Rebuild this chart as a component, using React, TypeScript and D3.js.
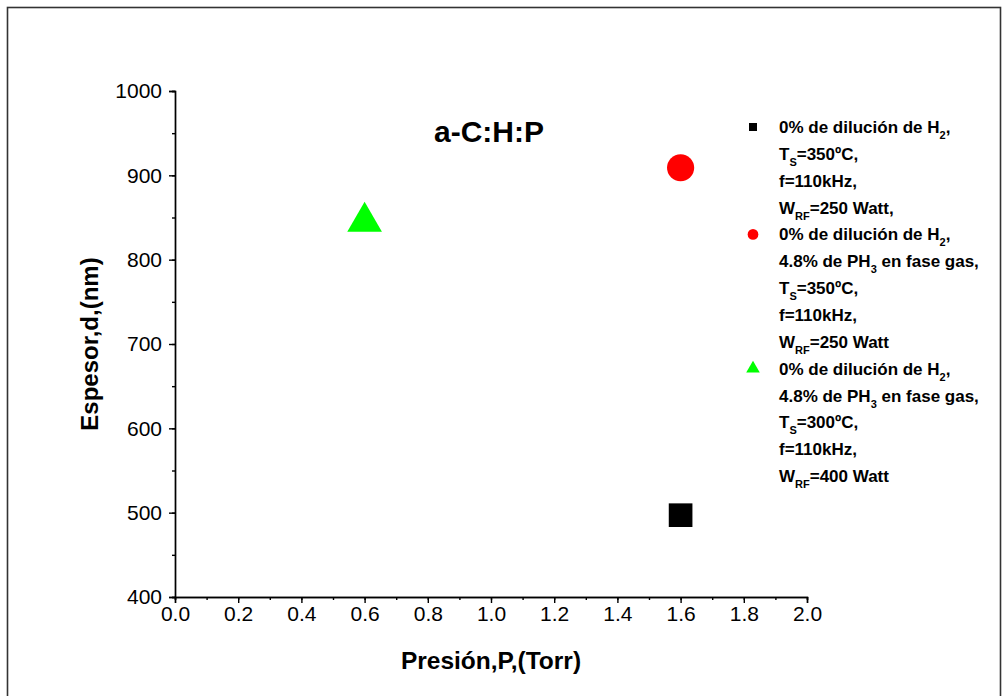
import * as d3 from 'd3';
import { useEffect, useRef } from 'react';

// series (one point each)
const seriesNames = ['square', 'circle', 'triangle'];
const seriesColors = ['#000000', '#ff0000', '#00ff00'];
const presion = [1.6, 1.6, 0.6];
const espesor = [497, 909, 845];

// legend text, _{..} marks a subscript
const legendLines = [
  ['0% de dilución de H_{2},', 'T_{S}=350ºC,', 'f=110kHz,', 'W_{RF}=250 Watt,'],
  ['0% de dilución de H_{2},', '4.8% de PH_{3} en fase gas,', 'T_{S}=350ºC,', 'f=110kHz,', 'W_{RF}=250 Watt'],
  ['0% de dilución de H_{2},', '4.8% de PH_{3} en fase gas,', 'T_{S}=300ºC,', 'f=110kHz,', 'W_{RF}=400 Watt'],
];

const xTicks = [0, 0.2, 0.4, 0.6, 0.8, 1.0, 1.2, 1.4, 1.6, 1.8, 2.0];
const yTicks = [400, 500, 600, 700, 800, 900, 1000];

const title = 'a-C:H:P';
const xLabel = 'Presión,P,(Torr)';
const yLabel = 'Espesor,d,(nm)';

export default function App() {
  const svgRef = useRef(null);

  useEffect(() => {
    d3.select(svgRef.current).selectAll('*').remove();

    const width = 1004;
    const height = 696;
    const marginLeft = 175;
    const marginRight = 197;
    const marginTop = 91;
    const marginBottom = 99;
    const font = 'Arial, "Liberation Sans", sans-serif';

    const x = d3.scaleLinear([0, 2], [marginLeft, width - marginRight]);
    const y = d3.scaleLinear([400, 1000], [height - marginBottom, marginTop]);

    const svg = d3.select(svgRef.current)
      .attr('viewBox', [0, 0, width, height])
      .attr('width', width)
      .attr('height', height)
      .style('font-family', font);

    svg.append('rect')
      .attr('width', width).attr('height', height).attr('fill', 'white');

    // outer frame
    svg.append('rect')
      .attr('x', 7.5).attr('y', 7.5)
      .attr('width', 993).attr('height', 700)
      .attr('fill', 'none')
      .attr('stroke', '#333')
      .attr('stroke-width', 1.6);

    // x axis
    svg.append('g')
      .attr('transform', `translate(0,${height - marginBottom})`)
      .call(d3.axisBottom(x).tickValues(d3.range(0, 2.01, 0.1)).tickSize(3).tickFormat(() => ''))
      .call(g => g.selectAll('line,path').attr('stroke', '#000').attr('stroke-width', 1.4));
    svg.append('g')
      .attr('transform', `translate(0,${height - marginBottom})`)
      .call(d3.axisBottom(x).tickValues(xTicks).tickSize(6).tickPadding(3).tickFormat(d3.format('.1f')))
      .call(g => g.select('.domain').attr('stroke', '#000').attr('stroke-width', 1.4))
      .call(g => g.selectAll('line').attr('stroke', '#000').attr('stroke-width', 1.4))
      .call(g => g.selectAll('text').attr('fill', '#000').style('font-size', '21px').style('font-family', font));

    // y axis
    svg.append('g')
      .attr('transform', `translate(${marginLeft},0)`)
      .call(d3.axisLeft(y).tickValues(d3.range(400, 1001, 50)).tickSize(3).tickFormat(() => ''))
      .call(g => g.selectAll('line,path').attr('stroke', '#000').attr('stroke-width', 1.4));
    svg.append('g')
      .attr('transform', `translate(${marginLeft},0)`)
      .call(d3.axisLeft(y).tickValues(yTicks).tickSize(6).tickPadding(7).tickFormat(d3.format('d')))
      .call(g => g.select('.domain').attr('stroke', '#000').attr('stroke-width', 1.4))
      .call(g => g.selectAll('line').attr('stroke', '#000').attr('stroke-width', 1.4))
      .call(g => g.selectAll('text').attr('fill', '#000').style('font-size', '21px').style('font-family', font));

    // axis titles
    svg.append('text')
      .attr('x', (marginLeft + width - marginRight) / 2)
      .attr('y', 669)
      .attr('text-anchor', 'middle')
      .attr('font-weight', 'bold')
      .attr('font-size', 24.5)
      .text(xLabel);
    svg.append('text')
      .attr('transform', `translate(98,${(marginTop + height - marginBottom) / 2}) rotate(-90)`)
      .attr('text-anchor', 'middle')
      .attr('font-weight', 'bold')
      .attr('font-size', 24)
      .text(yLabel);

    svg.append('text')
      .attr('x', 489).attr('y', 142)
      .attr('text-anchor', 'middle')
      .attr('font-weight', 'bold')
      .attr('font-size', 30)
      .text(title);

    // markers
    const symbols = [d3.symbolSquare, d3.symbolCircle, d3.symbolTriangle];
    const bigSize = [560, 580, 520];
    const smallSize = [64, 90, 80];
    seriesNames.forEach((name, i) => {
      svg.append('path')
        .attr('class', name)
        .attr('transform', `translate(${x(presion[i])},${y(espesor[i])})`)
        .attr('d', d3.symbol(symbols[i], bigSize[i])())
        .attr('fill', seriesColors[i]);
    });

    // legend
    const legendX = 753;
    const textX = 779;
    const lineStep = 26.85;
    let k = 0;
    legendLines.forEach((lines, i) => {
      svg.append('path')
        .attr('transform', `translate(${legendX},${127 + k * lineStep})`)
        .attr('d', d3.symbol(symbols[i], smallSize[i])())
        .attr('fill', seriesColors[i]);
      lines.forEach(line => {
        const t = svg.append('text')
          .attr('x', textX)
          .attr('y', 127 + k * lineStep + 6)
          .attr('font-weight', 'bold')
          .attr('font-size', 17);
        const parts = line.split(/(_\{[^}]*\})/).filter(s => s.length);
        let shifted = false;
        parts.forEach(p => {
          if (p.startsWith('_{')) {
            t.append('tspan').attr('dy', 6).attr('font-size', 11).text(p.slice(2, -1));
            shifted = true;
          } else {
            t.append('tspan').attr('dy', shifted ? -6 : 0).text(p);
            shifted = false;
          }
        });
        k++;
      });
    });
  }, []);

  return <svg ref={svgRef} style={{ position: 'absolute', left: 0, top: 0, display: 'block' }} />;
}
